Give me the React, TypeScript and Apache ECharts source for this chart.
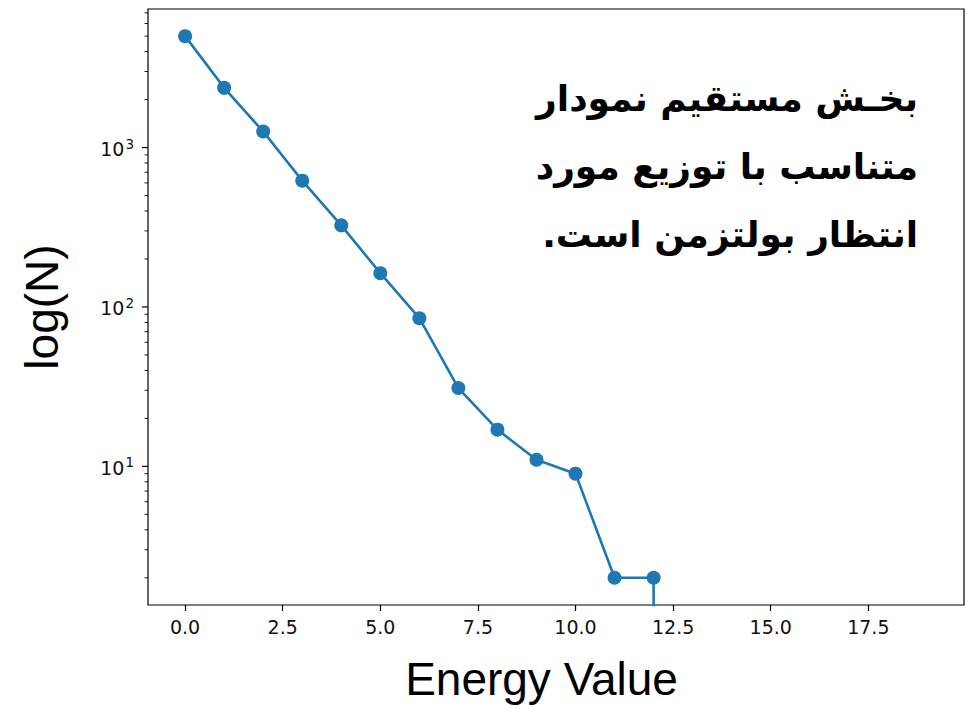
import React, { useEffect, useRef } from "react";
import * as echarts from "echarts";

// Energy values (x) and counts N (y, log scale)
const energyValues = [0, 1, 2, 3, 4, 5, 6, 7, 8, 9, 10, 11, 12, 13, 14, 15, 16, 17, 18, 19];
const counts = [5000, 2370, 1260, 620, 325, 163, 85, 31, 17, 11, 9, 2, 2, 0, 0, 0, 0, 0, 0, 0];

const xTickValues = [0, 2.5, 5, 7.5, 10, 12.5, 15, 17.5];
const yMajorTicks = [10, 100, 1000];
const yMinorTicks = [2, 3, 4, 5, 6, 7, 8, 9, 20, 30, 40, 50, 60, 70, 80, 90, 200, 300, 400, 500, 600, 700, 800, 900, 2000, 3000, 4000, 5000, 6000, 7000];

const annotationLines = [
  "بخـش مستقیم نمودار",
  "متناسب با توزیع مورد",
  "انتظار بولتزمن است.\u200F",
];

const X_MIN = -0.95;
const X_MAX = 19.95;
const Y_MIN = 1.35;
const Y_MAX = 7400;

export default function App() {
  const ref = useRef<HTMLDivElement>(null);
  useEffect(() => {
    if (!ref.current) return;
    const chart = echarts.init(ref.current, null, { renderer: "svg" });
    const lineData = energyValues.map((x, i) => [x, counts[i] > 0 ? counts[i] : 1e-300]);
    const tickData = [
      ...yMajorTicks.map((v) => [X_MIN, v, 1]),
      ...yMinorTicks.map((v) => [X_MIN, v, 0]),
    ];
    chart.setOption({
      animation: false,
      grid: {
        left: 148,
        top: 9,
        right: 4,
        bottom: 103,
        show: true,
        borderColor: "#000",
        borderWidth: 1.2,
        backgroundColor: "transparent",
      },
      xAxis: {
        type: "value",
        min: X_MIN,
        max: X_MAX,
        splitLine: { show: false },
        axisLine: { show: false },
        axisTick: {
          show: true,
          customValues: xTickValues,
          length: 6,
          lineStyle: { color: "#000", width: 1.2 },
        },
        axisLabel: {
          customValues: xTickValues,
          formatter: (v: number) => v.toFixed(1),
          fontFamily: "DejaVu Sans",
          fontSize: 19,
          color: "#111",
          margin: 12,
        },
        name: "Energy Value",
        nameLocation: "middle",
        nameGap: 51,
        nameTextStyle: {
          fontFamily: "Liberation Sans",
          fontSize: 46,
          color: "#000",
          padding: [0, 29, 0, 0],
        },
      },
      yAxis: {
        type: "log",
        logBase: 10,
        min: Y_MIN,
        max: Y_MAX,
        splitLine: { show: false },
        axisLine: { show: false },
        axisTick: { show: false },
        minorTick: { show: false },
        axisLabel: {
          margin: 14,
          formatter: (v: number) => {
            const e = Math.log10(v);
            const r = Math.round(e);
            if (Math.abs(e - r) > 1e-6) return "";
            return `{b|10}{s|${r}}`;
          },
          rich: {
            b: { fontFamily: "DejaVu Sans", fontSize: 19, color: "#111", verticalAlign: "bottom" },
            s: { fontFamily: "DejaVu Sans", fontSize: 13.5, color: "#111", verticalAlign: "top", padding: [0, 0, 8, 1] },
          },
        },
        name: "log(N)",
        nameLocation: "middle",
        nameGap: 83,
        nameTextStyle: {
          fontFamily: "Liberation Sans",
          fontSize: 46,
          color: "#000",
        },
      },
      graphic: [
        {
          type: "text",
          x: 918,
          y: 64,
          z: 10,
          style: {
            text: annotationLines.join("\n"),
            fontFamily: "DejaVu Sans",
            fontWeight: "bold",
            fontSize: 36,
            lineHeight: 68,
            fill: "#000",
            align: "right",
            textAlign: "right",
            verticalAlign: "top",
            textVerticalAlign: "top",
          },
        },
      ],
      series: [
        {
          type: "line",
          data: lineData,
          symbol: "circle",
          symbolSize: 14,
          clip: true,
          lineStyle: { color: "#1f77b4", width: 2.6 },
          itemStyle: { color: "#1f77b4" },
          z: 3,
        },
        {
          type: "custom",
          data: tickData,
          encode: { x: 0, y: 1 },
          clip: false,
          silent: true,
          z: 5,
          renderItem: (params: any, api: any) => {
            const pt = api.coord([api.value(0), api.value(1)]);
            const len = api.value(2) === 1 ? 6 : 3.5;
            return {
              type: "line",
              shape: { x1: pt[0] - len, y1: pt[1], x2: pt[0], y2: pt[1] },
              style: { stroke: "#000", lineWidth: api.value(2) === 1 ? 1.2 : 0.9 },
            };
          },
        },
      ],
    });
    return () => chart.dispose();
  }, []);
  return <div ref={ref} style={{ width: 968, height: 708, position: "absolute", left: 0, top: 0 }} />;
}
